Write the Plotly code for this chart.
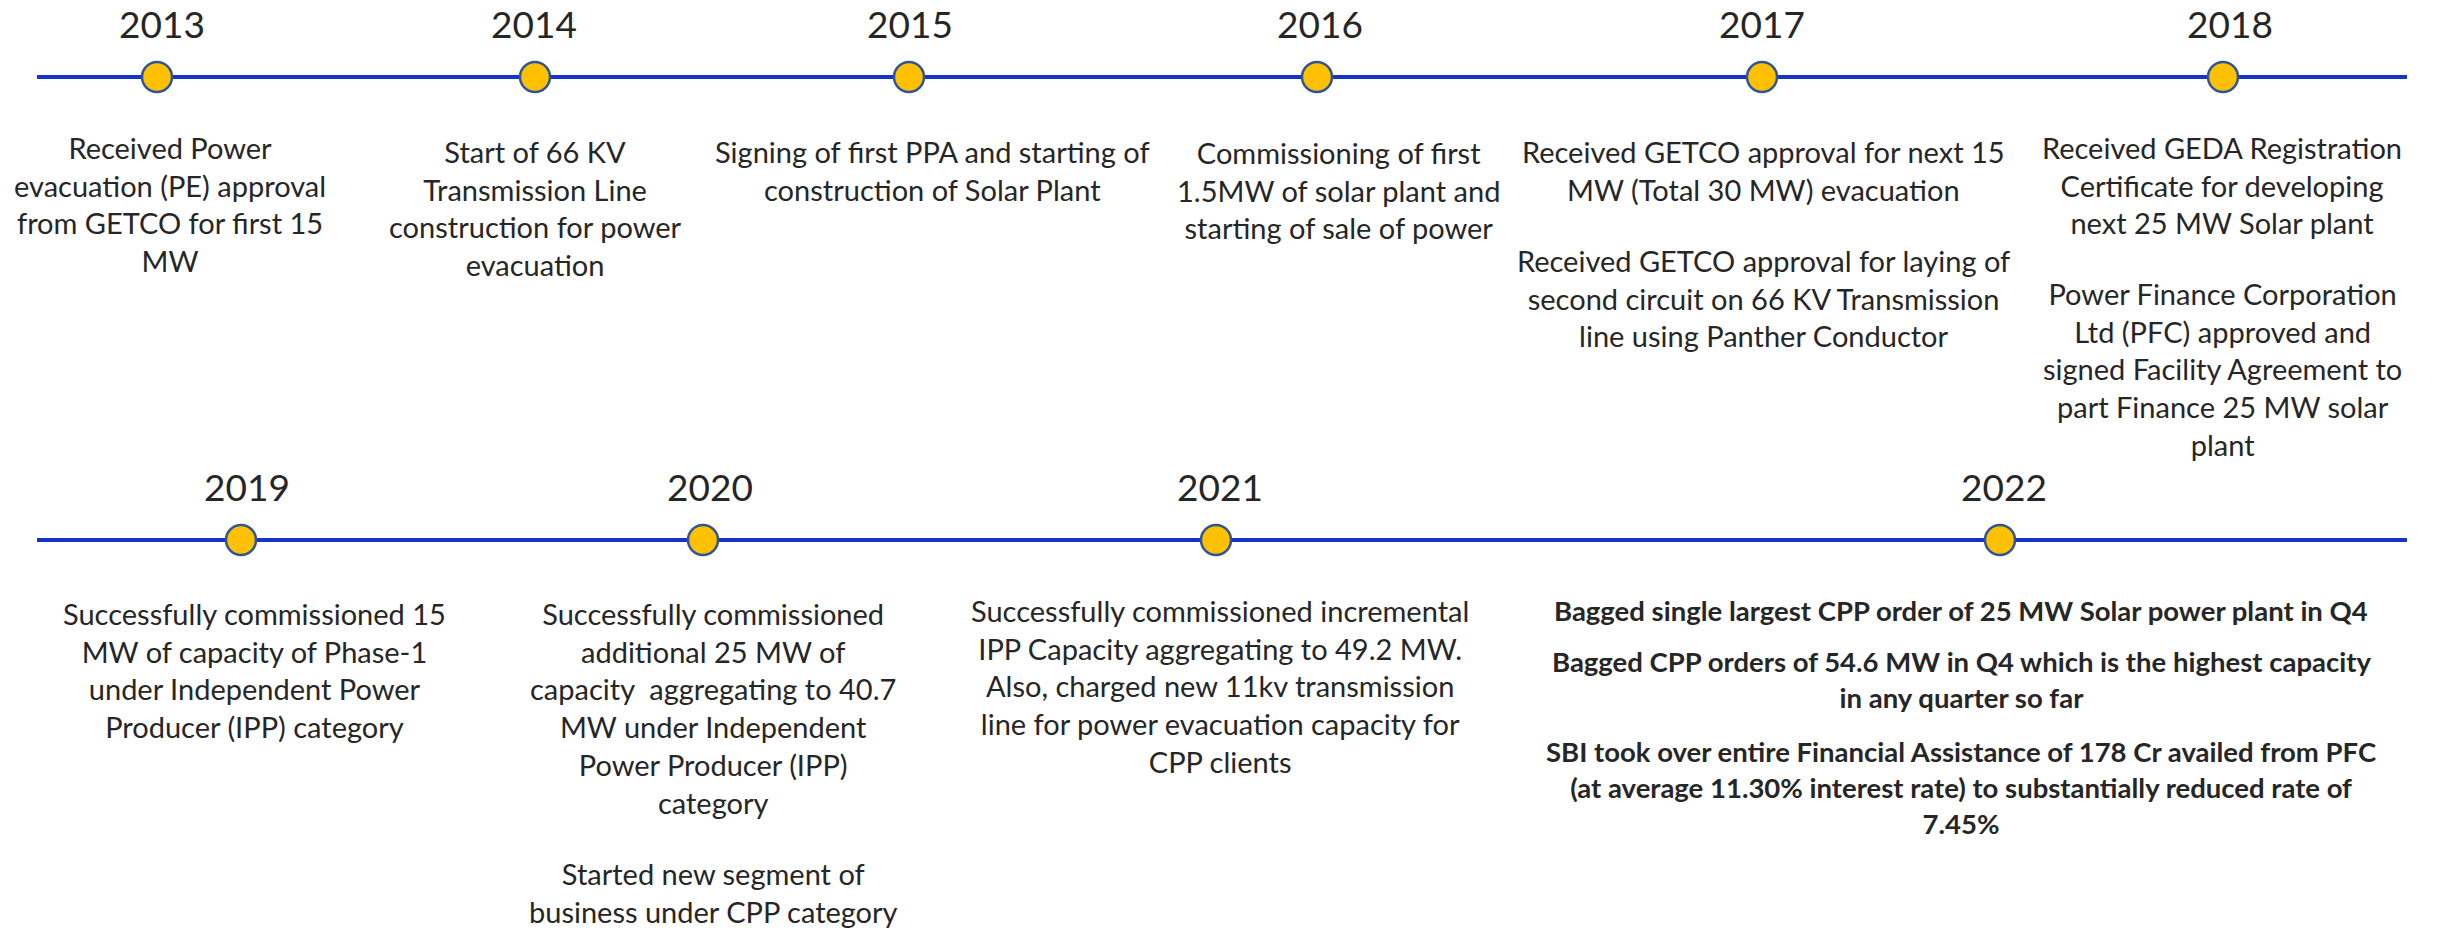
import plotly.graph_objects as go

# ---------------- data ----------------
top_years = ["2013", "2014", "2015", "2016", "2017", "2018"]
bottom_years = ["2019", "2020", "2021", "2022"]

top_events = [
    ["Received Power<br>evacuation (PE) approval<br>from GETCO for first 15<br>MW"],
    ["Start of 66 KV<br>Transmission Line<br>construction for power<br>evacuation"],
    ["Signing of first PPA and starting of<br>construction of Solar Plant"],
    ["Commissioning of first<br>1.5MW of solar plant and<br>starting of sale of power"],
    ["Received GETCO approval for next 15<br>MW (Total 30 MW) evacuation",
     "Received GETCO approval for laying of<br>second circuit on 66 KV Transmission<br>line using Panther Conductor"],
    ["Received GEDA Registration<br>Certificate for developing<br>next 25 MW Solar plant",
     "Power Finance Corporation<br>Ltd (PFC) approved and<br>signed Facility Agreement to<br>part Finance 25 MW solar<br>plant"],
]

bottom_events = [
    ["Successfully commissioned 15<br>MW of capacity of Phase-1<br>under Independent Power<br>Producer (IPP) category"],
    ["Successfully commissioned<br>additional 25 MW of<br>capacity  aggregating to 40.7<br>MW under Independent<br>Power Producer (IPP)<br>category",
     "Started new segment of<br>business under CPP category"],
    ["Successfully commissioned incremental<br>IPP Capacity aggregating to 49.2 MW.<br>Also, charged new 11kv transmission<br>line for power evacuation capacity for<br>CPP clients"],
    ["Bagged single largest CPP order of 25 MW Solar power plant in Q4",
     "Bagged CPP orders of 54.6 MW in Q4 which is the highest capacity<br>in any quarter so far",
     "SBI took over entire Financial Assistance of 178 Cr availed from PFC<br>(at average 11.30% interest rate) to substantially reduced rate of<br>7.45%"],
]
bottom_bold = [False, False, False, True]

# ---------------- layout (pixel-like canvas units) ----------------
W, H = 2437, 928
LINE_X0, LINE_X1 = 37, 2407
TOP_Y, BOTTOM_Y = 77, 540

top_marker_x = [157, 535, 909, 1317, 1762, 2223]
bottom_marker_x = [241, 703, 1216, 2000]
top_label_x = [162, 534, 910, 1320, 1762, 2230]
bottom_label_x = [247, 710, 1220, 2004]
LABEL_GAP = 54

top_text_x = [170, 535, 932, 1338, 1763, 2222]
top_text_y = [[147], [151], [151], [152], [151, 260], [147, 293]]
bottom_text_x = [254, 713, 1220, 1961]
bottom_text_y = [[613], [613, 873], [610], [610, 661, 751]]

FONT = "Lato, 'Liberation Sans', Arial, sans-serif"
TEXT_COLOR = "#262626"
BODY_SIZE = 29
BOLD_SIZE = 27.5
YEAR_SIZE = 37
LINE_COLOR = "#1434CC"
MARKER_FILL = "#FFC000"
MARKER_EDGE = "#2F5597"

fig = go.Figure()

for row_y in (TOP_Y, BOTTOM_Y):
    fig.add_trace(go.Scatter(
        x=[LINE_X0, LINE_X1], y=[row_y, row_y], mode="lines",
        line=dict(color=LINE_COLOR, width=4), hoverinfo="skip", showlegend=False))

for xs, row_y, yrs in ((top_marker_x, TOP_Y, top_years), (bottom_marker_x, BOTTOM_Y, bottom_years)):
    fig.add_trace(go.Scatter(
        x=xs, y=[row_y] * len(xs), mode="markers", text=yrs,
        marker=dict(size=30, color=MARKER_FILL, line=dict(color=MARKER_EDGE, width=2.5)),
        hoverinfo="text", showlegend=False))

annotations = []


def add_text(x, y_first, text, size, bold=False):
    t = f"<b>{text}</b>" if bold else text
    annotations.append(dict(
        x=x, y=y_first - (0.62 * size + 1), xref="x", yref="y", text=t,
        showarrow=False, xanchor="center", yanchor="top", align="center",
        font=dict(family=FONT, size=size, color=TEXT_COLOR)))


for yr, lx in zip(top_years, top_label_x):
    annotations.append(dict(x=lx, y=TOP_Y - LABEL_GAP, xref="x", yref="y", text=yr,
                            showarrow=False, xanchor="center", yanchor="middle",
                            font=dict(family=FONT, size=YEAR_SIZE, color=TEXT_COLOR)))
for yr, lx in zip(bottom_years, bottom_label_x):
    annotations.append(dict(x=lx, y=BOTTOM_Y - LABEL_GAP, xref="x", yref="y", text=yr,
                            showarrow=False, xanchor="center", yanchor="middle",
                            font=dict(family=FONT, size=YEAR_SIZE, color=TEXT_COLOR)))

for blocks, tx, tys in zip(top_events, top_text_x, top_text_y):
    for b, ty in zip(blocks, tys):
        add_text(tx, ty, b, BODY_SIZE)

for blocks, tx, tys, bold in zip(bottom_events, bottom_text_x, bottom_text_y, bottom_bold):
    for b, ty in zip(blocks, tys):
        add_text(tx, ty, b, BOLD_SIZE if bold else BODY_SIZE, bold)

fig.update_layout(
    width=W, height=H,
    margin=dict(l=0, r=0, t=0, b=0),
    paper_bgcolor="white", plot_bgcolor="white",
    xaxis=dict(range=[0, W], visible=False, fixedrange=True),
    yaxis=dict(range=[H, 0], visible=False, fixedrange=True),
    annotations=annotations,
)

fig.write_html(
    "out.html",
    config={"displayModeBar": False},
    post_script="document.body.style.margin='0';document.body.style.overflow='hidden';",
)
